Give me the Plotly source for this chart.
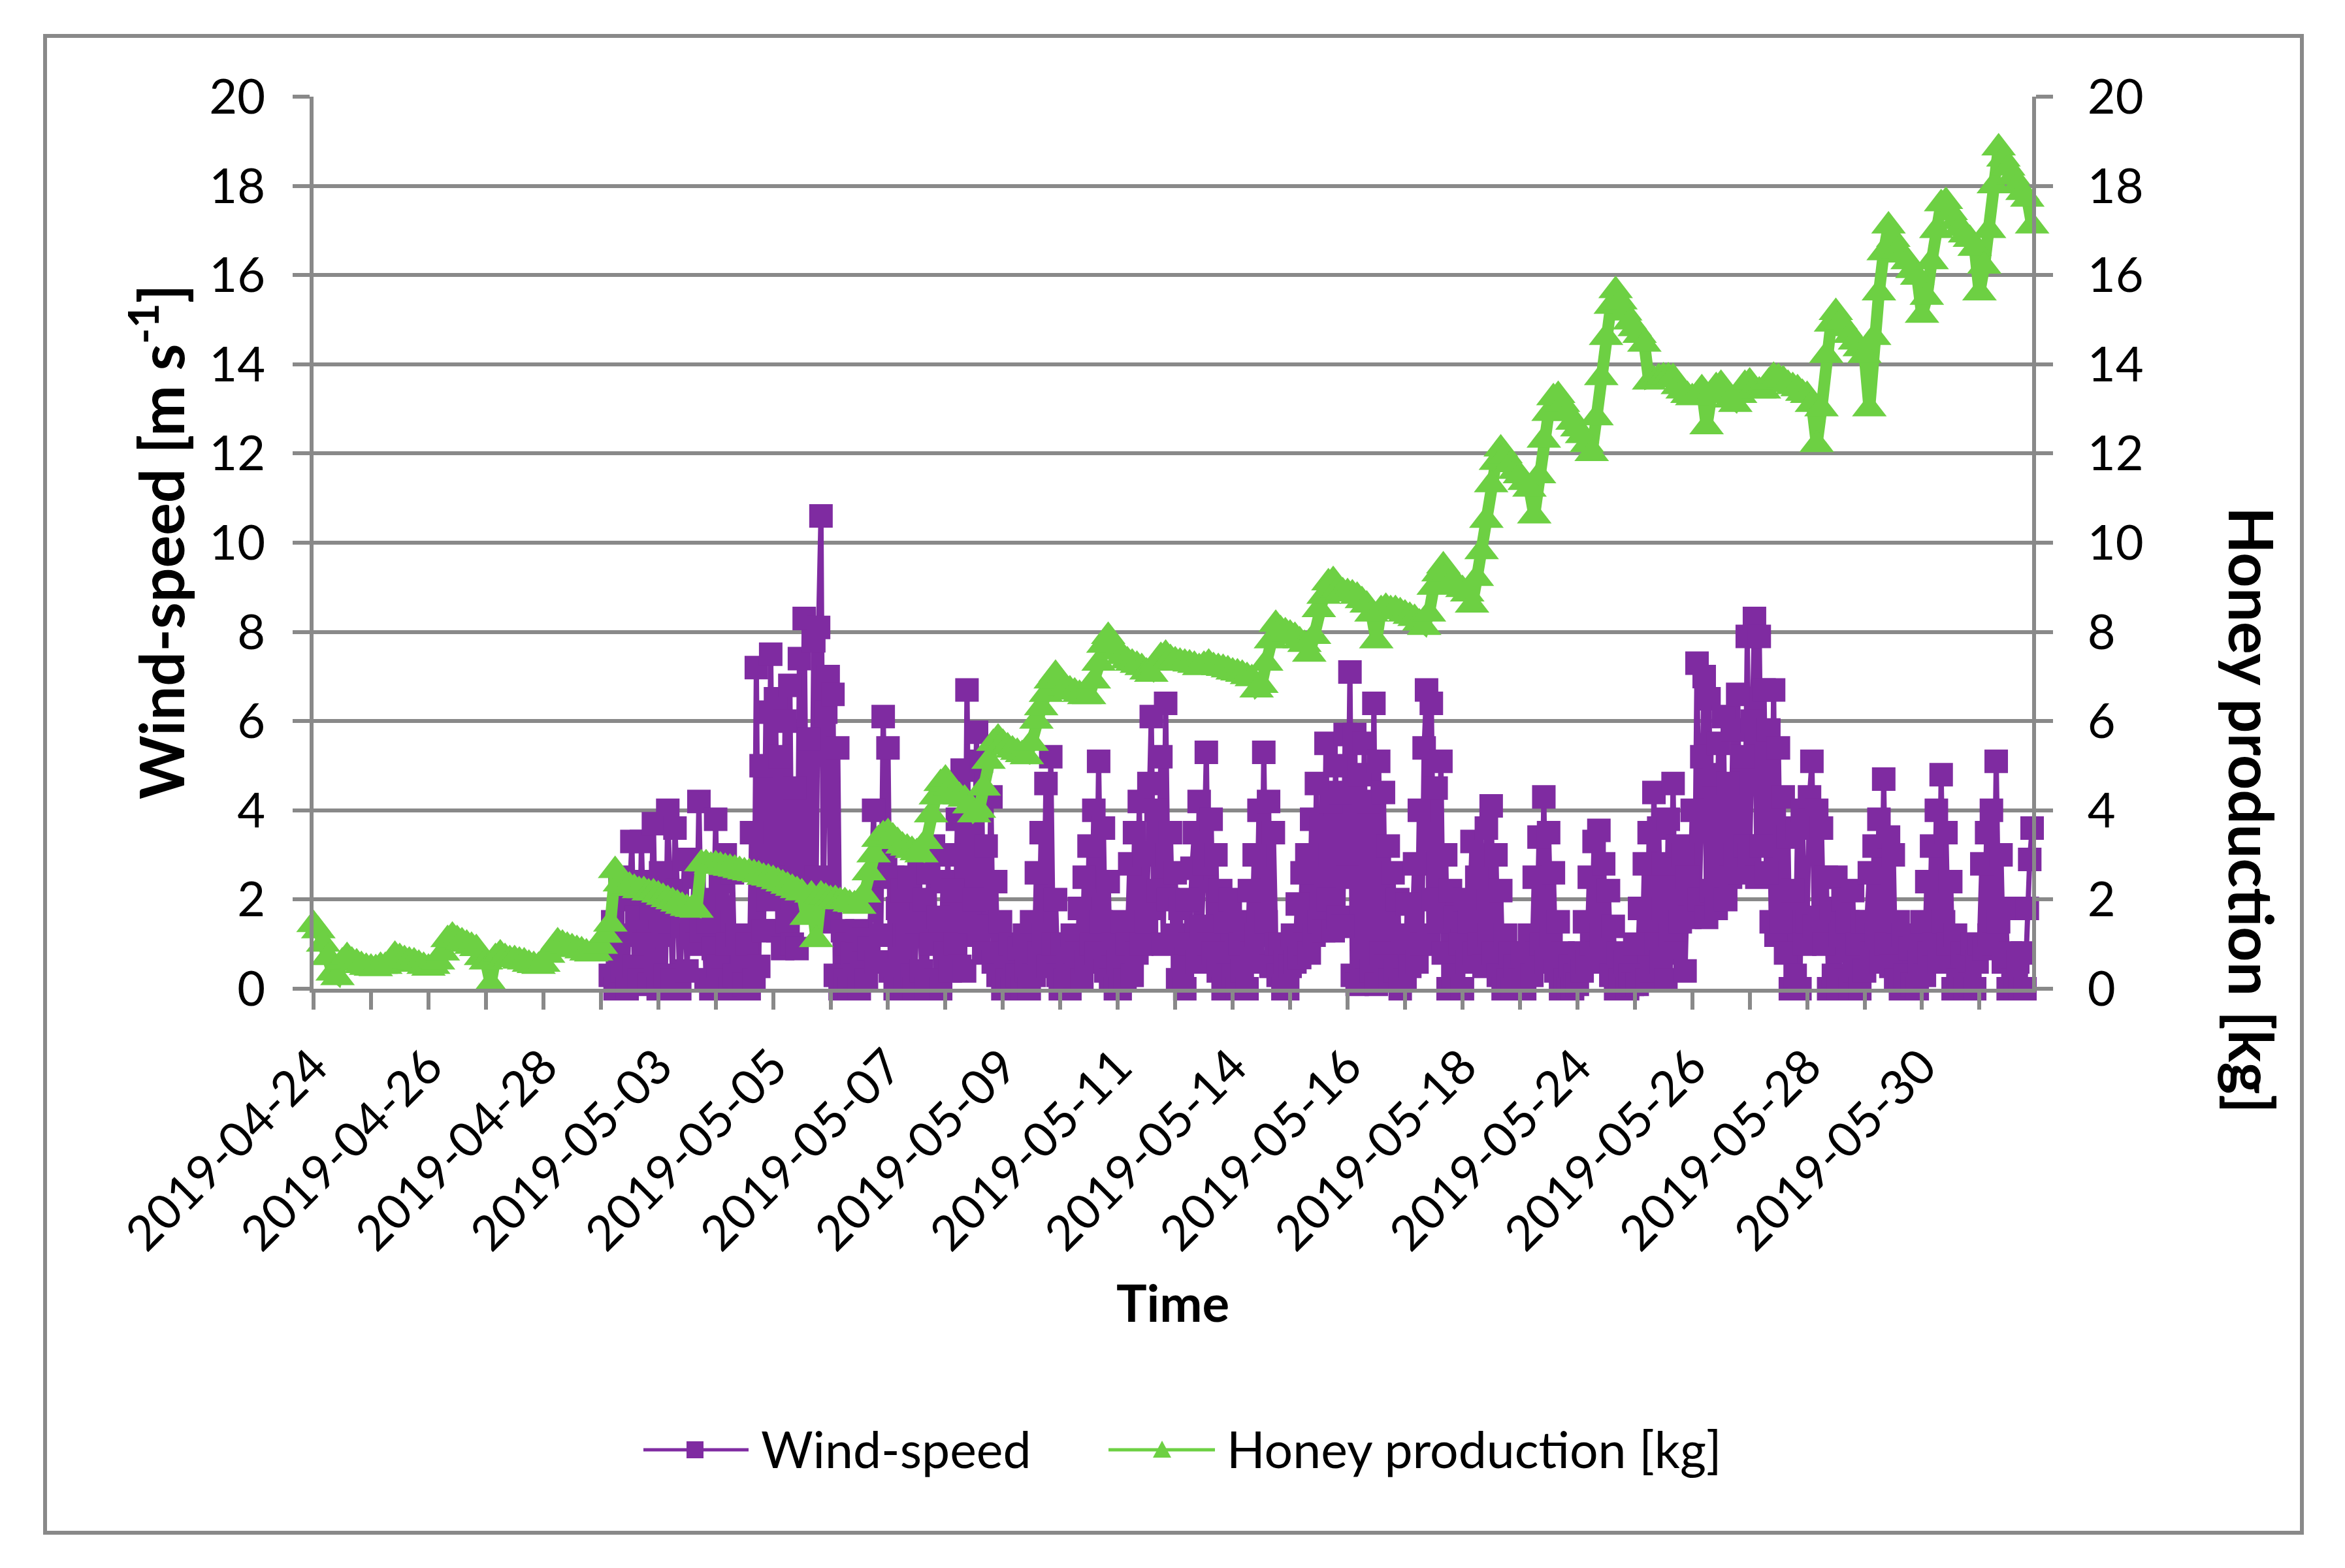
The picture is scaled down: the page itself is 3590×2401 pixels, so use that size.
import plotly.graph_objects as go

# ---------------- data ----------------
# Category axis (Excel-like): one tick per day of records, a date label on every 2nd tick
label_days = [0, 2, 4, 6, 8, 10, 12, 14, 16, 18, 20, 22, 24, 26, 28]
date_labels = ["2019-04-24", "2019-04-26", "2019-04-28", "2019-05-03", "2019-05-05",
               "2019-05-07", "2019-05-09", "2019-05-11", "2019-05-14", "2019-05-16",
               "2019-05-18", "2019-05-24", "2019-05-26", "2019-05-28", "2019-05-30"]

honey_per_day = 12      # honey records per day (category steps)
wind_per_day = 24       # wind records per day
wind_first_record = 124  # wind logging starts at this record (in wind steps)

# Honey production [kg], 12 records per day
honey_kg = [
    1.44, 1.3, 1.0, 0.7, 0.35, 0.25, 0.6, 0.72, 0.62, 0.58, 0.52, 0.48,
    0.46, 0.45, 0.5, 0.5, 0.55, 0.75, 0.7, 0.65, 0.62, 0.6, 0.55, 0.5,
    0.46, 0.5, 0.6, 0.8, 1.1, 1.18, 1.1, 1.05, 1.0, 0.95, 0.9, 0.7,
    0.6, 0.1, 0.7, 0.78, 0.7, 0.65, 0.65, 0.62, 0.6, 0.55, 0.52, 0.5,
    0.55, 0.75, 0.9, 1.05, 1.0, 0.95, 0.92, 0.88, 0.85, 0.8, 0.78, 0.8,
    0.95, 1.2, 1.45, 2.65, 2.35, 2.25, 2.3, 2.25, 2.2, 2.2, 2.15, 2.15,
    2.1, 2.05, 2.0, 1.95, 1.9, 1.85, 1.8, 1.78, 1.76, 2.8, 2.8, 2.75,
    2.78, 2.75, 2.72, 2.7, 2.68, 2.65, 2.62, 2.6, 2.58, 2.55, 2.5, 2.48,
    2.45, 2.4, 2.35, 2.3, 2.25, 2.2, 2.15, 1.6, 2.1, 1.1, 2.1, 2.05,
    2.0, 2.0, 1.95, 1.95, 1.9, 1.88, 1.85, 2.1, 2.6, 3.0, 3.35, 3.45,
    3.5, 3.4, 3.3, 3.2, 3.15, 3.1, 3.05, 3.0, 3.3, 3.9, 4.3, 4.6,
    4.7, 4.5, 4.4, 4.3, 4.25, 4.1, 3.9, 4.0, 4.5, 5.1, 5.5, 5.62,
    5.5, 5.42, 5.35, 5.3, 5.25, 5.2, 5.5, 6.0, 6.3, 6.6, 6.9, 7.05,
    6.9, 6.75, 6.7, 6.65, 6.6, 6.55, 6.55, 6.9, 7.3, 7.7, 7.9, 7.7,
    7.55, 7.45, 7.35, 7.3, 7.25, 7.2, 7.1, 7.05, 7.3, 7.45, 7.5, 7.4,
    7.35, 7.32, 7.3, 7.28, 7.25, 7.2, 7.25, 7.3, 7.22, 7.2, 7.18, 7.15,
    7.1, 7.08, 7.05, 7.0, 6.95, 6.7, 6.8, 7.3, 7.8, 8.17, 8.05, 8.0,
    7.95, 7.9, 7.8, 7.72, 7.5, 7.9, 8.5, 8.8, 9.1, 9.15, 8.95, 8.9,
    8.88, 8.85, 8.8, 8.7, 8.6, 8.4, 7.8, 8.5, 8.55, 8.5, 8.5, 8.45,
    8.4, 8.35, 8.3, 8.2, 8.1, 8.4, 9.0, 9.3, 9.48, 9.3, 9.15, 9.05,
    8.95, 8.85, 8.6, 9.2, 9.8, 10.5, 11.3, 11.8, 12.1, 11.95, 11.75, 11.6,
    11.5, 11.35, 11.2, 10.6, 11.5, 12.3, 12.9, 13.25, 13.3, 13.1, 12.9, 12.7,
    12.55, 12.4, 12.2, 12.0, 12.8, 13.7, 14.6, 15.3, 15.65, 15.4, 15.15, 14.95,
    14.8, 14.65, 14.45, 13.6, 13.65, 13.7, 13.72, 13.72, 13.7, 13.5, 13.4, 13.3,
    13.25, 13.3, 13.45, 12.6, 13.3, 13.5, 13.55, 13.3, 13.2, 13.1, 13.3, 13.55,
    13.6, 13.45, 13.4, 13.4, 13.6, 13.73, 13.7, 13.65, 13.55, 13.5, 13.45, 13.35,
    13.3, 13.1, 12.2, 13.0, 14.2, 14.9, 15.16, 14.95, 14.8, 14.65, 14.5, 14.35,
    14.2, 13.0, 14.6, 15.6, 16.5, 17.1, 16.8, 16.55, 16.45, 16.3, 16.1, 15.95,
    15.1, 15.5, 16.3, 17.0, 17.6, 17.65, 17.4, 17.2, 17.05, 16.9, 16.8, 16.6,
    15.6, 16.2, 17.0, 18.0, 18.85, 18.6, 18.4, 18.2, 18.0, 17.85, 17.7, 17.1,
]

# Wind-speed [m s-1], 24 records per day (logging starts on the 6th day)
wind_ms = [
    0.3, 1.5, 0.0, 0.8, 2.5, 0.4, 1.2, 0.0, 2.0, 3.3, 0.5, 1.6, 0.2, 3.3, 1.0, 2.4, 0.1, 1.8, 3.7, 0.6,
    0.0, 2.6, 1.2, 0.3, 4.0, 1.5, 0.2, 3.6, 2.2, 0.0, 1.4, 2.9, 0.4, 1.8, 1.2, 2.5, 1.0, 4.2, 1.3, 2.0, 0.2, 1.5, 0.0, 0.9,
    3.8, 0.5, 2.4, 0.2, 3.0, 1.0, 0.0, 2.6, 0.3, 1.2, 0.0, 0.6, 0.1, 1.0, 0.0, 3.5, 0.2, 7.2, 0.5, 5.0, 1.3, 6.2, 2.0, 7.5,
    2.5, 6.5, 1.3, 5.2, 0.9, 6.0, 1.5, 6.8, 1.0, 4.5, 0.9, 7.4, 1.8, 8.3, 2.2, 5.6, 1.7, 7.8, 2.5, 8.1, 10.6, 1.7, 6.2, 7.0,
    1.5, 6.6, 0.3, 5.4, 0.0, 1.3, 0.2, 1.0, 0.0, 0.8, 0.3, 1.3, 0.0, 0.6, 1.1, 0.2, 0.9, 2.0, 4.0, 0.6, 2.8, 1.2, 6.1, 3.0,
    5.4, 0.4, 2.5, 0.0, 1.8, 0.6, 2.2, 0.0, 1.2, 2.5, 0.3, 0.0, 1.5, 3.0, 0.4, 2.0, 0.0, 2.6, 1.0, 3.2, 0.2, 1.6, 0.0, 2.4,
    0.8, 3.0, 0.4, 2.2, 1.0, 3.8, 0.5, 4.9, 0.4, 6.7, 1.5, 3.5, 2.0, 5.75, 1.2, 5.1, 0.8, 3.2, 1.4, 4.3, 0.6, 2.4, 0.3, 1.5,
    0.0, 0.8, 0.2, 1.0, 0.0, 0.6, 0.3, 0.9, 0.0, 1.2, 0.4, 0.0, 1.5, 0.3, 2.6, 0.8, 3.5, 1.2, 4.6, 0.5, 5.2, 1.0, 2.0, 0.3,
    0.0, 1.0, 0.2, 0.6, 0.0, 1.2, 0.3, 0.8, 1.8, 0.2, 2.5, 0.6, 3.2, 1.0, 4.0, 0.8, 5.1, 1.5, 3.6, 0.4, 2.4, 0.2, 1.0, 0.0,
    0.6, 0.0, 1.5, 0.2, 1.0, 2.8, 0.3, 3.5, 0.8, 4.2, 1.0, 3.0, 1.5, 4.6, 6.1, 1.8, 4.0, 2.2, 5.2, 1.0, 6.4, 2.0, 3.5, 1.2,
    2.6, 0.2, 1.8, 0.5, 0.0, 2.0, 1.0, 2.7, 3.5, 0.6, 4.2, 1.4, 2.8, 5.3, 1.0, 3.8, 0.8, 3.0, 0.4, 2.2, 0.0, 1.5, 0.3, 2.0,
    0.3, 1.5, 0.0, 1.0, 0.4, 1.2, 0.0, 2.2, 0.8, 3.0, 1.2, 4.0, 0.6, 5.3, 1.5, 4.2, 0.5, 3.5, 1.0, 0.3, 1.0, 0.0, 0.6, 0.0,
    0.5, 1.2, 0.6, 1.9, 0.7, 2.6, 1.0, 3.0, 0.8, 3.8, 1.2, 4.6, 1.5, 3.6, 1.3, 5.5, 2.0, 4.2, 1.3, 5.0, 1.6, 4.4, 1.4, 5.7,
    2.5, 7.1, 0.3, 5.7, 0.1, 4.8, 0.6, 5.5, 0.2, 4.2, 0.4, 6.4, 0.1, 5.1, 0.8, 4.4, 0.5, 3.2, 0.2, 2.6, 0.4, 2.0, 0.0, 1.2,
    0.2, 1.9, 0.5, 1.2, 2.8, 0.6, 4.0, 1.0, 5.4, 6.7, 1.2, 6.4, 2.0, 4.5, 1.5, 5.1, 0.8, 3.0, 0.0, 2.2, 0.3, 1.6, 0.0, 1.0,
    0.0, 2.0, 0.6, 1.5, 3.3, 0.8, 2.5, 1.0, 3.0, 0.5, 3.6, 1.2, 4.1, 0.8, 3.0, 0.3, 2.2, 0.0, 1.2, 0.2, 0.8, 0.0, 0.5, 0.0,
    0.2, 0.8, 0.0, 0.6, 1.2, 0.3, 2.5, 0.8, 3.4, 1.0, 4.3, 0.6, 3.5, 1.2, 2.6, 0.4, 1.5, 0.0, 0.8, 0.2, 0.0, 0.5, 0.0, 0.3,
    0.1, 0.8, 0.4, 1.5, 0.6, 2.5, 1.0, 3.3, 0.8, 3.55, 1.2, 2.8, 0.6, 2.2, 0.3, 1.4, 0.0, 0.8, 0.2, 0.0, 0.6, 0.0, 0.3, 0.1,
    1.0, 0.1, 1.8, 0.3, 2.8, 0.2, 3.5, 0.4, 4.4, 1.0, 3.6, 0.6, 2.8, 0.2, 3.8, 1.2, 4.6, 0.8, 3.2, 1.5, 3.0, 0.4, 2.5, 1.6,
    4.0, 1.8, 7.3, 2.0, 5.2, 7.0, 1.6, 6.5, 2.2, 4.8, 1.8, 5.5, 2.4, 6.1, 2.0, 4.6, 2.5, 5.8, 3.0, 6.6, 2.6, 5.2, 3.2, 7.9,
    3.0, 6.0, 8.3, 2.5, 7.9, 3.2, 6.7, 2.6, 5.8, 1.5, 6.7, 1.2, 5.4, 1.5, 4.3, 0.8, 3.4, 0.0, 2.2, 0.3, 3.6, 0.0, 4.0, 1.0,
    1.5, 4.3, 5.1, 1.4, 4.0, 1.6, 3.6, 1.0, 2.5, 0.0, 1.8, 0.3, 2.5, 0.0, 1.2, 2.0, 0.2, 1.5, 0.0, 2.2, 0.4, 1.0, 0.0, 1.5,
    0.4, 1.5, 2.6, 0.8, 3.2, 1.2, 3.8, 0.6, 4.7, 1.0, 3.4, 0.5, 3.0, 0.2, 1.5, 0.0, 1.2, 0.3, 0.0, 0.9, 0.1, 1.2, 0.0, 0.6,
    1.5, 0.3, 2.4, 0.8, 3.2, 1.0, 4.0, 0.6, 4.8, 1.5, 3.5, 1.0, 2.4, 0.0, 1.2, 0.2, 0.0, 0.8, 0.0, 0.5, 0.1, 1.0, 0.0, 0.6,
    1.0, 2.8, 0.9, 3.5, 1.2, 4.0, 1.0, 5.1, 1.5, 3.0, 0.6, 1.8, 0.0, 0.8, 0.2, 0.0, 0.6, 0.0, 0.8, 0.0, 1.8, 2.9, 3.6,
]

y_ticks = [0, 2, 4, 6, 8, 10, 12, 14, 16, 18, 20]

# ---------------- style ----------------
PURPLE = "#7F2BA1"
GREEN = "#6DD043"
GRID = "#898989"
FONT = "Lato, Carlito, Calibri, sans-serif"
FS = 74        # tick labels
FS_LEG = 77    # legend texts
FS_TIME = 78   # x title
FS_YT = 93     # vertical axis titles

W, H = 3590, 2401
L, R, T, B = 480, 479, 148, 887
PW, PH = W - L - R, H - T - B


def px(X):
    return (X - L) / PW


def py(Y):
    return (H - B - Y) / PH


honey_x = [i / honey_per_day for i in range(len(honey_kg))]
wind_x = [(wind_first_record + j) / wind_per_day for j in range(len(wind_ms))]
x_max = honey_x[-1]

fig = go.Figure()
fig.add_trace(go.Scatter(
    x=wind_x, y=wind_ms, mode="lines+markers", name="Wind-speed",
    line=dict(color=PURPLE, width=8),
    marker=dict(symbol="square", size=36, color=PURPLE, line=dict(width=0)),
    cliponaxis=False, yaxis="y"))
fig.add_trace(go.Scatter(
    x=honey_x, y=honey_kg, mode="lines+markers", name="Honey production [kg]",
    line=dict(color=GREEN, width=18),
    marker=dict(symbol="triangle-up", size=46, color=GREEN, line=dict(width=0)),
    cliponaxis=False, yaxis="y2"))

axis_common = dict(ticks="outside", ticklen=26, tickwidth=6, tickcolor=GRID,
                   showline=True, linewidth=6, linecolor=GRID, zeroline=False,
                   automargin=False, tickfont=dict(family=FONT, size=FS, color="black"))

fig.update_layout(
    template="none",
    width=W, height=H,
    margin=dict(l=L, r=R, t=T, b=B, pad=0),
    paper_bgcolor="white", plot_bgcolor="white",
    showlegend=False,
    font=dict(family=FONT, size=FS, color="black"),
    xaxis=dict(range=[0, x_max], tickmode="array", tickvals=label_days,
               ticktext=date_labels, tickangle=-45, showgrid=False, ticklabelstandoff=14,
               minor=dict(tick0=0, dtick=1, ticks="outside", ticklen=26, tickwidth=6,
                          tickcolor=GRID, showgrid=False),
               **axis_common),
    yaxis=dict(range=[0, 20], tickmode="array", tickvals=y_ticks, showgrid=True,
               gridcolor=GRID, gridwidth=6, ticklabelstandoff=27, **axis_common),
    yaxis2=dict(range=[0, 20], tickmode="array", tickvals=y_ticks, overlaying="y", side="right",
                showgrid=False, ticklabelstandoff=38, **axis_common),
)

annotations = [
    dict(text="<b>Wind-speed [m s<sup>-1</sup>]</b>", x=px(240), y=py(830), textangle=-90,
         xanchor="center", yanchor="middle", font=dict(size=FS_YT, family=FONT)),
    dict(text="<b>Honey production [kg]</b>", x=px(3448), y=py(1240), textangle=90,
         xanchor="center", yanchor="middle", font=dict(size=FS_YT, family=FONT)),
    dict(text="<b>Time</b>", x=px(1795), y=py(1994), xanchor="center", yanchor="middle",
         font=dict(size=FS_TIME, family=FONT)),
    dict(text="Wind-speed", x=px(1163), y=py(2218), xanchor="left", yanchor="middle",
         font=dict(size=FS_LEG, family=FONT)),
    dict(text="Honey production [kg]", x=px(1876), y=py(2218), xanchor="left", yanchor="middle",
         font=dict(size=FS_LEG, family=FONT)),
]
for a in annotations:
    a.update(xref="paper", yref="paper", showarrow=False)
fig.update_layout(annotations=annotations)

shapes = [
    # chart border
    dict(type="rect", x0=px(69), x1=px(3524), y0=py(2347), y1=py(55),
         line=dict(color=GRID, width=6)),
    # legend: wind
    dict(type="line", x0=px(985), x1=px(1146), y0=py(2220), y1=py(2220),
         line=dict(color=PURPLE, width=5)),
    dict(type="rect", x0=px(1051), x1=px(1077), y0=py(2233), y1=py(2207),
         fillcolor=PURPLE, line=dict(width=0)),
    # legend: honey
    dict(type="line", x0=px(1697), x1=px(1860), y0=py(2220), y1=py(2220),
         line=dict(color=GREEN, width=5)),
    dict(type="path",
         path=f"M {px(1765)},{py(2232)} L {px(1793)},{py(2232)} L {px(1779)},{py(2206)} Z",
         fillcolor=GREEN, line=dict(width=0)),
]
for s in shapes:
    s.update(xref="paper", yref="paper")
fig.update_layout(shapes=shapes)

fig.write_html("out.html", config={"displayModeBar": False},
               post_script="document.body.style.margin='0';document.body.style.overflow='hidden';")
